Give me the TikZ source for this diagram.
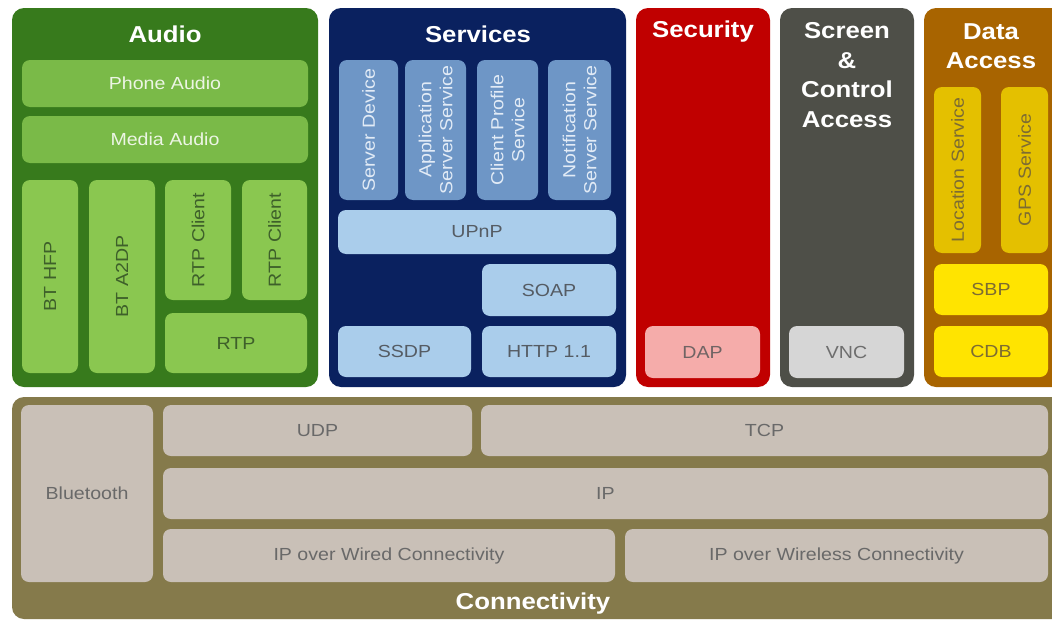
\documentclass[tikz,border=0pt]{standalone}
\usepackage{fontspec}
\setmainfont{Liberation Sans}[FakeStretch=1.12]
\definecolor{audioD}{RGB}{55,122,28}
\definecolor{audioM}{RGB}{122,186,72}
\definecolor{audioL}{RGB}{138,199,80}
\definecolor{audioTW}{RGB}{236,245,228}
\definecolor{audioTD}{RGB}{62,96,42}
\definecolor{servD}{RGB}{10,33,95}
\definecolor{servM}{RGB}{110,150,198}
\definecolor{servTM}{RGB}{226,235,246}
\definecolor{servL}{RGB}{170,205,235}
\definecolor{servTL}{RGB}{85,92,100}
\definecolor{secD}{RGB}{192,0,0}
\definecolor{secL}{RGB}{245,172,170}
\definecolor{secT}{RGB}{112,100,100}
\definecolor{scrD}{RGB}{78,79,72}
\definecolor{scrL}{RGB}{214,214,214}
\definecolor{scrT}{RGB}{110,110,110}
\definecolor{dataD}{RGB}{168,100,0}
\definecolor{dataM}{RGB}{228,192,0}
\definecolor{dataL}{RGB}{255,228,0}
\definecolor{dataT}{RGB}{125,108,50}
\definecolor{connD}{RGB}{133,122,75}
\definecolor{connL}{RGB}{201,192,183}
\definecolor{connT}{RGB}{105,105,105}
\newcommand\blkh[7]{\node[#6, minimum width={(#4-#2)*1pt}, minimum height={(#5-#3)*1pt}] (#1) at ({(#2+#4)/2},{(#3+#5)/2}) {#7};}
\newcommand\blkv[7]{\node[#6, rotate=90, minimum width={(#5-#3)*1pt}, minimum height={(#4-#2)*1pt}] (#1) at ({(#2+#4)/2},{(#3+#5)/2}) {#7};}
\begin{document}
\begin{tikzpicture}[x=1pt,y=-1pt,
  panel/.style={rounded corners=12pt, inner sep=0pt, fill=#1},
  box/.style={rounded corners=8pt, inner sep=0pt, align=center, fill=#1,
    font=\fontsize{17.5}{21}\selectfont},
  title/.style={text=white, align=center, inner sep=0pt,
    font=\bfseries\fontsize{23}{29.5}\selectfont}]
\useasboundingbox (0,0) rectangle (1052,621);
\clip (0,0) rectangle (1052,621);
\fill[white] (0,0) rectangle (1052,621);
% panels
\blkh{audio}{12}{8}{318}{387}{panel=audioD}{}
\blkh{services}{329}{8}{626}{387}{panel=servD}{}
\blkh{security}{636}{8}{770}{387}{panel=secD}{}
\blkh{screen}{780}{8}{914}{387}{panel=scrD}{}
\blkh{data}{924}{8}{1066}{387}{panel=dataD}{}
\blkh{conn}{12}{397}{1066}{619}{panel=connD}{}
% titles
\node[title] (taudio) at (165,34) {Audio};
\node[title] (tserv) at (478,34) {Services};
\node[title] (tsec) at (703,32) {Security};
\node[title] (tscr) at (847,75) {Screen\\\&\\Control\\Access};
\node[title] (tdata) at (991,46) {Data\\Access};
\node[title] (tconn) at (533,604) {Connectivity};
% audio
\blkh{phone}{22}{60}{308}{107}{box=audioM, text=audioTW}{Phone Audio}
\blkh{media}{22}{116}{308}{163}{box=audioM, text=audioTW}{Media Audio}
\blkv{hfp}{22}{180}{78}{373}{box=audioL, text=audioTD}{BT HFP}
\blkv{a2dp}{89}{180}{155}{373}{box=audioL, text=audioTD}{BT A2DP}
\blkv{rtpc1}{165}{180}{231}{300}{box=audioL, text=audioTD}{RTP Client}
\blkv{rtpc2}{242}{180}{307}{300}{box=audioL, text=audioTD}{RTP Client}
\blkh{rtp}{165}{313}{307}{373}{box=audioL, text=audioTD}{RTP}
% services
\blkv{sdev}{339}{60}{398}{200}{box=servM, text=servTM}{Server Device}
\blkv{appsrv}{405}{60}{466}{200}{box=servM, text=servTM}{Application\\Server Service}
\blkv{cps}{477}{60}{538}{200}{box=servM, text=servTM}{Client Profile\\Service}
\blkv{nss}{548}{60}{611}{200}{box=servM, text=servTM}{Notification\\Server Service}
\blkh{upnp}{338}{210}{616}{254}{box=servL, text=servTL}{UPnP}
\blkh{soap}{482}{264}{616}{316}{box=servL, text=servTL}{SOAP}
\blkh{ssdp}{338}{326}{471}{377}{box=servL, text=servTL}{SSDP}
\blkh{http}{482}{326}{616}{377}{box=servL, text=servTL}{HTTP 1.1}
% security / screen
\blkh{dap}{645}{326}{760}{378}{box=secL, text=secT}{DAP}
\blkh{vnc}{789}{326}{904}{378}{box=scrL, text=scrT}{VNC}
% data access
\blkv{loc}{934}{87}{981}{253}{box=dataM, text=dataT}{Location Service}
\blkv{gps}{1001}{87}{1048}{253}{box=dataM, text=dataT}{GPS Service}
\blkh{sbp}{934}{264}{1048}{315}{box=dataL, text=dataT}{SBP}
\blkh{cdb}{934}{326}{1048}{377}{box=dataL, text=dataT}{CDB}
% connectivity
\blkh{bt}{21}{405}{153}{582}{box=connL, text=connT}{Bluetooth}
\blkh{udp}{163}{405}{472}{456}{box=connL, text=connT}{UDP}
\blkh{tcp}{481}{405}{1048}{456}{box=connL, text=connT}{TCP}
\blkh{ip}{163}{468}{1048}{519}{box=connL, text=connT}{IP}
\blkh{wired}{163}{529}{615}{582}{box=connL, text=connT}{IP over Wired Connectivity}
\blkh{wireless}{625}{529}{1048}{582}{box=connL, text=connT}{IP over Wireless Connectivity}
\end{tikzpicture}
\end{document}
